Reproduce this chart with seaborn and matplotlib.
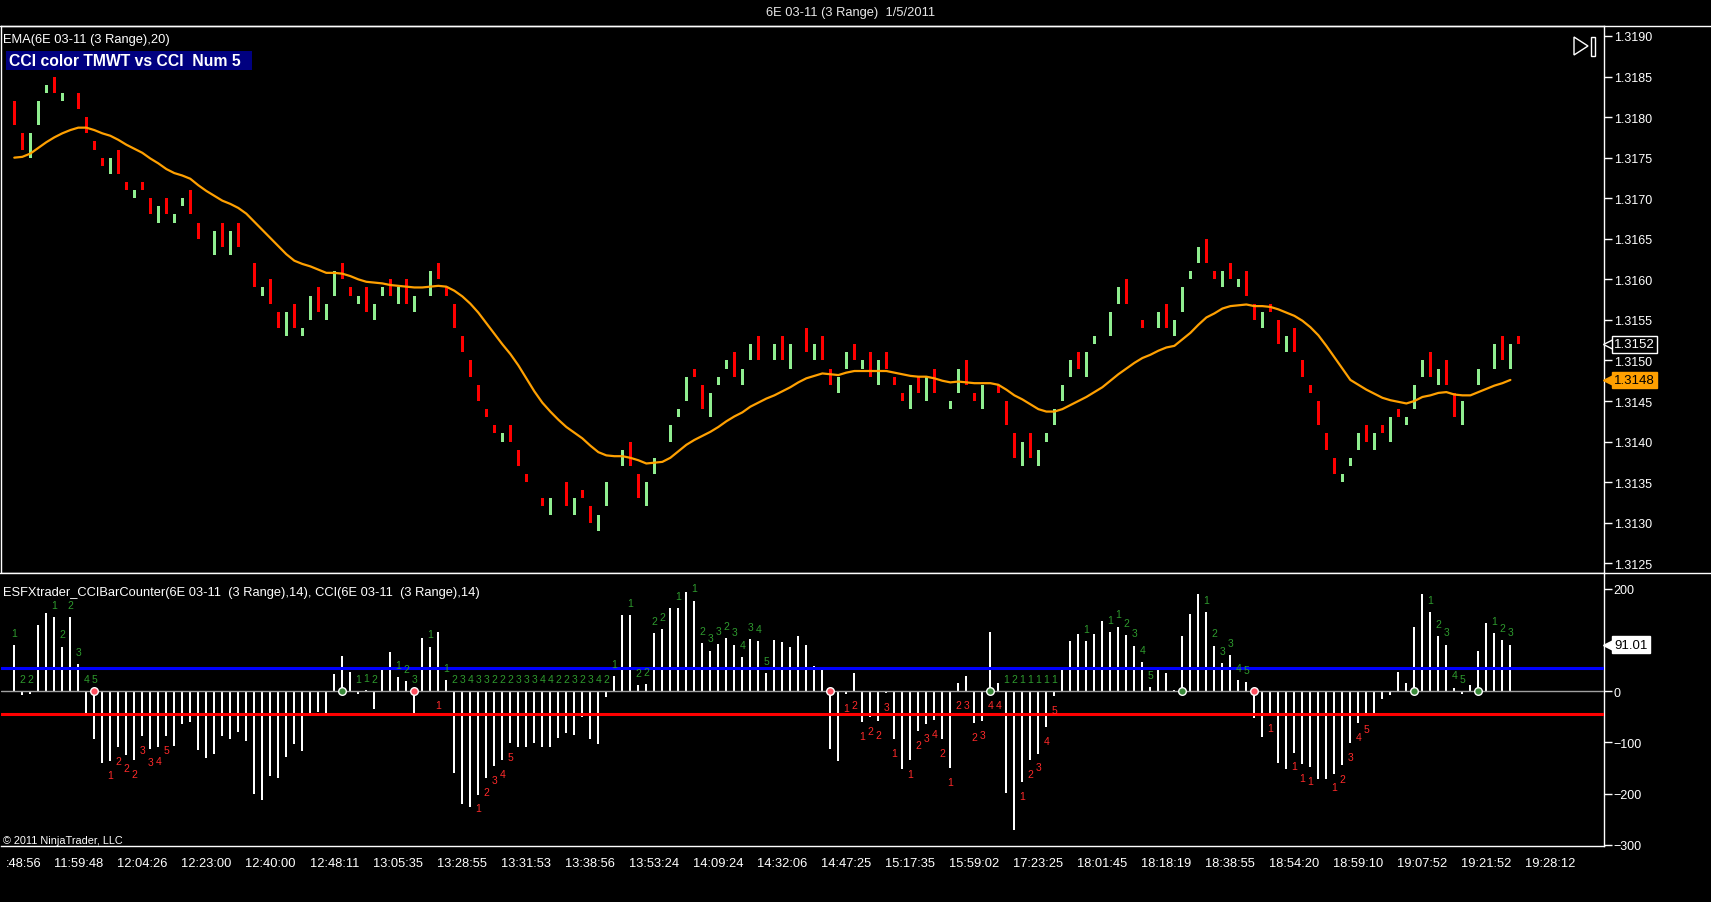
import numpy as np
import pandas as pd
import matplotlib
matplotlib.use("Agg")
import matplotlib.pyplot as plt
from matplotlib.lines import Line2D
from matplotlib.patches import Rectangle, Polygon
from matplotlib.transforms import ScaledTranslation
import seaborn as sns

# 6E 03-11, 3-tick range bars, bodies in ticks (price * 10000)
open_ticks = [
    13182, 13178, 13175, 13179, 13183, 13185, 13182, 13183, 13183, 13180,
    13177, 13175, 13173, 13176, 13172, 13170, 13172, 13170, 13167, 13170,
    13167, 13169, 13171, 13167, 13165, 13163, 13167, 13163, 13167, 13165,
    13162, 13158, 13160, 13156, 13153, 13157, 13153, 13155, 13159, 13155,
    13158, 13162, 13159, 13157, 13159, 13155, 13158, 13160, 13157, 13160,
    13156, 13159, 13158, 13162, 13159, 13157, 13153, 13150, 13147, 13144,
    13142, 13140, 13142, 13139, 13136, 13134, 13133, 13131, 13133, 13135,
    13131, 13134, 13132, 13129, 13132, 13136, 13137, 13140, 13136, 13132,
    13136, 13139, 13140, 13143, 13145, 13149, 13147, 13143, 13147, 13149,
    13151, 13147, 13150, 13153, 13151, 13150, 13153, 13149, 13152, 13154,
    13150, 13153, 13149, 13146, 13149, 13152, 13149, 13151, 13147, 13151,
    13148, 13146, 13144, 13148, 13145, 13149, 13145, 13144, 13146, 13150,
    13146, 13144, 13147, 13147, 13145, 13141, 13137, 13141, 13137, 13140,
    13142, 13145, 13148, 13151, 13148, 13152, 13153, 13153, 13157, 13160,
    13156, 13155, 13155, 13154, 13157, 13153, 13156, 13160, 13162, 13165,
    13161, 13159, 13162, 13159, 13161, 13157, 13154, 13157, 13155, 13151,
    13154, 13150, 13147, 13145, 13141, 13138, 13135, 13137, 13139, 13142,
    13139, 13142, 13140, 13144, 13142, 13144, 13148, 13151, 13147, 13150,
    13146, 13142, 13146, 13147, 13150, 13149, 13153, 13149, 13153,
]
close_ticks = [
    13179, 13176, 13178, 13182, 13184, 13183, 13183, 13183, 13181, 13178,
    13176, 13174, 13175, 13173, 13171, 13171, 13171, 13168, 13169, 13168,
    13168, 13170, 13168, 13165, 13165, 13166, 13164, 13166, 13164, 13165,
    13159, 13159, 13157, 13154, 13156, 13154, 13154, 13158, 13156, 13157,
    13161, 13160, 13158, 13158, 13156, 13157, 13159, 13158, 13159, 13157,
    13158, 13159, 13161, 13160, 13158, 13154, 13151, 13148, 13145, 13143,
    13141, 13141, 13140, 13137, 13135, 13134, 13132, 13133, 13133, 13132,
    13133, 13133, 13130, 13131, 13135, 13136, 13139, 13137, 13133, 13135,
    13138, 13139, 13142, 13144, 13148, 13148, 13144, 13146, 13148, 13150,
    13148, 13149, 13152, 13150, 13151, 13152, 13150, 13152, 13152, 13151,
    13152, 13150, 13147, 13148, 13151, 13150, 13150, 13148, 13150, 13149,
    13147, 13145, 13147, 13146, 13148, 13146, 13145, 13145, 13149, 13147,
    13145, 13147, 13147, 13146, 13142, 13138, 13140, 13138, 13139, 13141,
    13144, 13147, 13150, 13149, 13151, 13153, 13153, 13156, 13159, 13157,
    13156, 13154, 13155, 13156, 13154, 13155, 13159, 13161, 13164, 13162,
    13160, 13161, 13160, 13160, 13158, 13155, 13156, 13156, 13152, 13153,
    13151, 13148, 13146, 13142, 13139, 13136, 13136, 13138, 13141, 13140,
    13141, 13141, 13143, 13143, 13143, 13147, 13150, 13148, 13149, 13147,
    13143, 13145, 13146, 13149, 13150, 13152, 13150, 13152, 13152,
]
# EMA(20) in ticks, not yet plotted for the last (open) bar
ema_ticks = [
    13175.0, 13175.1, 13175.5, 13176.2, 13176.9, 13177.5, 13178.0, 13178.4, 13178.7, 13178.7,
    13178.4, 13178.0, 13177.7, 13177.2, 13176.6, 13176.1, 13175.6, 13174.9, 13174.3, 13173.6,
    13173.1, 13172.8, 13172.4, 13171.6, 13170.9, 13170.3, 13169.7, 13169.3, 13168.8, 13168.1,
    13167.1, 13166.1, 13165.1, 13164.1, 13163.1, 13162.3, 13161.9, 13161.6, 13161.2, 13160.8,
    13160.8, 13160.7, 13160.4, 13160.0, 13159.7, 13159.6, 13159.5, 13159.3, 13159.2, 13159.1,
    13159.0, 13159.0, 13159.1, 13159.2, 13159.1, 13158.6, 13157.9, 13157.0, 13155.9, 13154.6,
    13153.3, 13152.0, 13150.8, 13149.4, 13147.8, 13146.2, 13144.8, 13143.7, 13142.7, 13141.8,
    13141.1, 13140.4, 13139.5, 13138.7, 13138.3, 13138.2, 13138.2, 13138.0, 13137.7, 13137.3,
    13137.4, 13137.5, 13138.0, 13138.8, 13139.6, 13140.2, 13140.7, 13141.2, 13141.8, 13142.5,
    13143.1, 13143.6, 13144.3, 13144.8, 13145.3, 13145.7, 13146.2, 13146.7, 13147.3, 13147.8,
    13148.1, 13148.4, 13148.3, 13148.2, 13148.5, 13148.7, 13148.7, 13148.7, 13148.7, 13148.7,
    13148.5, 13148.3, 13148.1, 13148.0, 13148.0, 13147.8, 13147.5, 13147.3, 13147.4, 13147.3,
    13147.2, 13147.2, 13147.2, 13147.0, 13146.4, 13145.7, 13145.2, 13144.6, 13144.0, 13143.7,
    13143.7, 13144.0, 13144.5, 13145.0, 13145.5, 13146.1, 13146.7, 13147.5, 13148.3, 13149.0,
    13149.7, 13150.3, 13150.7, 13151.2, 13151.6, 13151.8, 13152.6, 13153.4, 13154.4, 13155.3,
    13155.8, 13156.4, 13156.7, 13156.8, 13156.9, 13156.7, 13156.7, 13156.6, 13156.3, 13155.9,
    13155.5, 13154.9, 13154.1, 13153.1, 13151.8, 13150.4, 13149.0, 13147.6, 13147.0, 13146.4,
    13145.9, 13145.4, 13145.1, 13144.9, 13144.7, 13145.0, 13145.5, 13145.7, 13146.0, 13146.1,
    13145.8, 13145.7, 13145.7, 13146.1, 13146.5, 13146.9, 13147.2, 13147.6,
]
# CCI(14) per bar
cci_values = [
    90, -8, -5, 129, 153, 145, 87, 145, 53, -42,
    -94, -141, -136, -110, -124, -134, -87, -112, -109, -87,
    -107, -65, -60, -114, -130, -122, -88, -93, -80, -98,
    -200, -213, -165, -169, -128, -104, -116, -47, -40, -49,
    33, 69, 38, -6, 2, -34, 48, 77, 28, 20,
    -47, 104, 87, 116, 22, -159, -220, -227, -202, -169,
    -147, -134, -102, -109, -109, -102, -109, -109, -91, -81,
    -85, -50, -93, -104, -11, 30, 149, 149, 12, 14,
    114, 121, 163, 163, 193, 177, 94, 79, 93, 104,
    91, 67, 102, 98, 35, 100, 96, 87, 108, 91,
    50, 41, -112, -137, -6, 36, -61, -51, -59, -3,
    -93, -153, -134, -78, -65, -57, -93, -151, 16, 30,
    -63, -58, 116, 16, -198, -272, -177, -134, -122, -70,
    -9, 46, 98, 111, 98, 112, 138, 116, 126, 109,
    89, 57, 8, 46, 36, 2, 108, 151, 190, 155,
    89, 55, 70, 22, 18, -53, -89, -44, -141, -153,
    -120, -143, -148, -171, -171, -161, -145, -102, -63, -46,
    -47, -16, -8, 38, 16, 126, 190, 155, 108, 91,
    7, -5, 12, 79, 134, 114, 100, 91.01,
]
cci_upper, cci_lower = 45, -45

# bar counter labels
green_count_idx = ([0, 1, 2, 5, 6, 7, 8, 9, 10, 43, 44, 45, 48, 49, 50, 52, 54]
                   + list(range(55, 75))
                   + [75, 77, 78, 79, 80, 81, 83, 85, 86, 87, 88, 89, 90, 91, 92, 93, 94]
                   + list(range(124, 131))
                   + [134, 137, 138, 139, 140, 141, 142, 149, 150, 151, 152, 153, 154,
                      177, 178, 179, 180, 181, 185, 186, 187])
green_count_txt = ("122122345" + "112" + "123" + "11"
                   + "23433222333442232342"
                   + "11222211" + "233234345"
                   + "1211111"
                   + "1112345" + "123345" + "12345" + "123")
red_count_idx = ([12, 13, 14, 15, 16, 17, 18, 19, 53, 58, 59, 60, 61, 62,
                  104, 105, 106, 107, 108, 109, 110, 112, 113, 114, 115, 116, 117,
                  118, 119, 120, 121, 122, 123, 126, 127, 128, 129, 130,
                  157, 160, 161, 162, 165, 166, 167, 168, 169])
red_count_txt = ("12223345" + "1" + "12345"
                 + "1212231" + "123421"
                 + "232344" + "12345"
                 + "1" + "111" + "12345")
cross_up_idx = [41, 122, 146, 175, 183]
cross_down_idx = [10, 50, 102, 155]

tick_bars = list(range(0, 193, 8))
# first label is cut by the window edge in the original, only ":48:56" shows
tick_times = [":48:56", "11:59:48", "12:04:26", "12:23:00", "12:40:00", "12:48:11",
              "13:05:35", "13:28:55", "13:31:53", "13:38:56", "13:53:24", "14:09:24",
              "14:32:06", "14:47:25", "15:17:35", "15:59:02", "17:23:25", "18:01:45",
              "18:18:19", "18:38:55", "18:54:20", "18:59:10", "19:07:52", "19:21:52",
              "19:28:12"]

assert len(open_ticks) == len(close_ticks) == 189
assert len(ema_ticks) == len(cci_values) == 188
assert len(green_count_idx) == len(green_count_txt)
assert len(red_count_idx) == len(red_count_txt)

RED = "#FF0000"
GREEN = "#90EE90"
ORANGE = "#FFA000"
FS = 9.3

sns.set_theme(style="dark", rc={"axes.facecolor": "black", "figure.facecolor": "black",
                                "axes.edgecolor": "white", "text.color": "white",
                                "xtick.color": "white", "ytick.color": "white",
                                "axes.linewidth": 1})
plt.rcParams["font.family"] = ["Liberation Sans", "DejaVu Sans"]

W, H = 1711, 903
fig = plt.figure(figsize=(W / 100, H / 100), dpi=100)


def px_box(left, top, right, bottom):
    return [left / W, 1 - bottom / H, (right - left) / W, (bottom - top) / H]


ax_p = fig.add_axes(px_box(1, 27, 1604, 574))
ax_c = fig.add_axes(px_box(1, 574, 1604, 847))

n = len(open_ticks)
bars = np.arange(n)
opens = np.array(open_ticks) / 1e4
closes = np.array(close_ticks) / 1e4
colors = np.where(closes > opens, GREEN, RED)

# price panel
ax_p.bar(bars, closes - opens, bottom=opens, width=0.36, color=colors, linewidth=0, zorder=2)
ema_df = pd.DataFrame({"bar": bars[:len(ema_ticks)], "ema": np.array(ema_ticks) / 1e4})
sns.lineplot(data=ema_df, x="bar", y="ema", ax=ax_p, color=ORANGE, linewidth=1.6, zorder=3)

ax_p.set_xlim(-1.66, 198.7)
ax_p.set_ylim(1.31238, 1.319123)
ax_p.set_yticks(np.arange(13125, 13191, 5) / 1e4)
ax_p.set_yticklabels([f"{v / 1e4:.4f}" for v in range(13125, 13191, 5)])
ax_p.yaxis.tick_right()
ax_p.tick_params(axis="y", direction="out", length=6, width=1, colors="white", labelsize=9, pad=1)
ax_p.set_xticks([])
ax_p.set_xlabel("")
ax_p.set_ylabel("")
ax_p.grid(False)
for s in ax_p.spines.values():
    s.set_color("white")
    s.set_linewidth(1)

# CCI panel
cci = np.array(cci_values, dtype=float)
cbars = bars[:len(cci)]
ax_c.bar(cbars, cci, width=0.26, color="white", linewidth=0, zorder=2)
ax_c.axhline(0, color="#A0A0A0", linewidth=1, zorder=3)
ax_c.axhline(cci_upper, color="#0000FF", linewidth=2.2, zorder=3)
ax_c.axhline(cci_lower, color=RED, linewidth=2.2, zorder=3)

sns.scatterplot(x=cross_down_idx, y=[0] * len(cross_down_idx), ax=ax_c, color="#FF5060",
                edgecolor="white", s=30, linewidth=1, zorder=5)
sns.scatterplot(x=cross_up_idx, y=[0] * len(cross_up_idx), ax=ax_c, color="#3A8A3A",
                edgecolor="white", s=30, linewidth=1, zorder=5)

for i, t in zip(green_count_idx, green_count_txt):
    ax_c.text(i, max(cci[i], 0) + 24, t, color="#2E9A2E", fontsize=7.5, ha="center", va="center", zorder=6)
for i, t in zip(red_count_idx, red_count_txt):
    ax_c.text(i, min(cci[i], 0) - 27, t, color="#FF2A2A", fontsize=7.5, ha="center", va="center", zorder=6)

ax_c.set_xlim(-1.66, 198.7)
ax_c.set_ylim(-302.5, 231)
ax_c.set_yticks([200, 0, -100, -200, -300])
ax_c.yaxis.tick_right()
ax_c.tick_params(axis="y", direction="out", length=6, width=1, colors="white", labelsize=9, pad=1)
ax_c.set_xticks(tick_bars)
ax_c.set_xticklabels(tick_times)
ax_c.tick_params(axis="x", direction="out", length=6, width=1, colors="white", labelsize=FS, pad=2)
first = ax_c.get_xticklabels()[0]
first.set_horizontalalignment("left")
first.set_transform(first.get_transform() + ScaledTranslation(-8 / 100, 0, fig.dpi_scale_trans))
ax_c.set_xlabel("")
ax_c.set_ylabel("")
ax_c.grid(False)
for name, s in ax_c.spines.items():
    s.set_color("white")
    s.set_linewidth(1)
ax_c.spines["left"].set_visible(False)
ax_c.spines["top"].set_visible(False)


# value tags on the right axis
def value_tag(ax, y, text, face, edge, txtcolor):
    tr = ax.get_yaxis_transform()
    ax.plot([1.0 + 6 / 1603], [y], marker="<", markersize=9.5, color=face, markeredgecolor=edge,
            markeredgewidth=1, transform=tr, clip_on=False, zorder=7)
    ax.text(1.0 + 10 / 1603, y, text, transform=tr, ha="left", va="center", fontsize=9.5,
            color=txtcolor, clip_on=False, zorder=8,
            bbox=dict(boxstyle="square,pad=0.18", fc=face, ec=edge, lw=1))


value_tag(ax_p, closes[-1], f"{closes[-1]:.4f}", "black", "white", "white")
value_tag(ax_p, ema_df["ema"].iloc[-1], f"{ema_df['ema'].iloc[-1]:.4f}", ORANGE, ORANGE, "black")
value_tag(ax_c, cci[-1], f"{cci[-1]:.2f}", "white", "white", "black")

# frame lines across the whole window
for ypx in (27, 574):
    fig.add_artist(Line2D([0, 1], [1 - ypx / H] * 2, transform=fig.transFigure, color="white", lw=1))

# texts
fig.text(851 / W, 1 - 13 / H, "6E 03-11 (3 Range)  1/5/2011", ha="center", va="center",
         fontsize=FS, color="#E8E8E8")
fig.text(3 / W, 1 - 40 / H, "EMA(6E 03-11 (3 Range),20)", ha="left", va="center", fontsize=FS, color="white")
fig.add_artist(Rectangle((6 / W, 1 - 71 / H), 246 / W, 19 / H, transform=fig.transFigure,
                         facecolor="#000080", edgecolor="none"))
fig.text(9 / W, 1 - 61.5 / H, "CCI color TMWT vs CCI  Num 5", ha="left", va="center",
         fontsize=11.3, fontweight="bold", color="white")
fig.text(3 / W, 1 - 593 / H, "ESFXtrader_CCIBarCounter(6E 03-11  (3 Range),14), CCI(6E 03-11  (3 Range),14)",
         ha="left", va="center", fontsize=FS, color="white")
fig.text(3 / W, 1 - 841 / H, "\u00a9 2011 NinjaTrader, LLC", ha="left", va="center", fontsize=7.8, color="white")

# scroll-to-end glyph, top right of price panel
ax_p.add_patch(Polygon([[(1574 - 1) / 1603, (574 - 38) / 547], [(1574 - 1) / 1603, (574 - 56) / 547],
                        [(1588 - 1) / 1603, (574 - 47) / 547]], closed=True, transform=ax_p.transAxes,
                       facecolor="none", edgecolor="white", lw=1, clip_on=False))
ax_p.add_patch(Rectangle(((1591 - 1) / 1603, (574 - 57) / 547), 4 / 1603, 19 / 547, transform=ax_p.transAxes,
                         facecolor="none", edgecolor="white", lw=1, clip_on=False))

fig.savefig("out.png", dpi=100, facecolor="black")
